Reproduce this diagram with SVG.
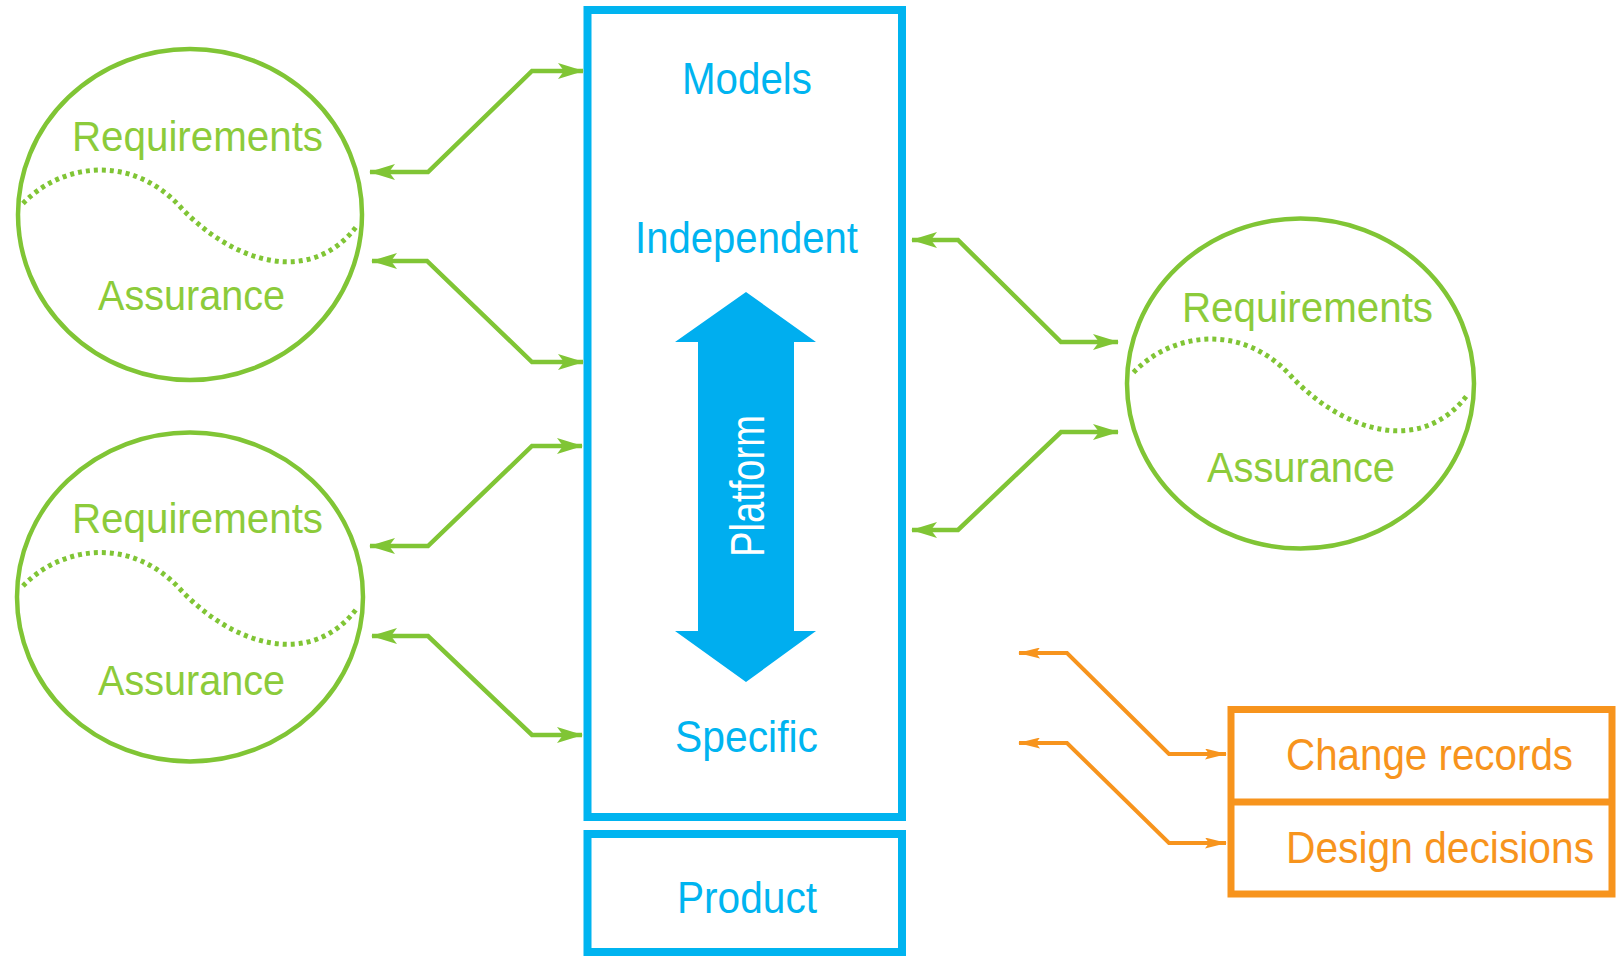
<svg xmlns="http://www.w3.org/2000/svg" width="1616" height="956" viewBox="0 0 1616 956">
<style>
.bg{fill:#ffffff}
.circ{fill:none;stroke:#80C535;stroke-width:4.5}
.wave{fill:none;stroke:#80C535;stroke-width:5;stroke-dasharray:4 4}
.gt{font-family:"Liberation Sans",Arial,sans-serif;font-size:43px;fill:#8CCB3A;text-anchor:middle}
.bt{font-family:"Liberation Sans",Arial,sans-serif;font-size:44px;fill:#00B4F0;text-anchor:middle}
.ot{font-family:"Liberation Sans",Arial,sans-serif;font-size:44px;fill:#F7941D}
.wt{font-family:"Liberation Sans",Arial,sans-serif;font-size:48px;fill:#ffffff;text-anchor:middle}
.box{fill:none;stroke:#00B4F0;stroke-width:8}
.obox{fill:none;stroke:#F7941D;stroke-width:7}
.gl{fill:none;stroke:#80C535;stroke-width:4.5;stroke-linejoin:miter}
.ol{fill:none;stroke:#F7941D;stroke-width:4;stroke-linejoin:miter}
</style>
<defs>
<marker id="ga" viewBox="0 0 26 16" refX="25" refY="8" markerWidth="26" markerHeight="16" markerUnits="userSpaceOnUse" orient="auto-start-reverse">
<path d="M0,0 L26,8 L0,16 L6,8 z" fill="#80C535"/>
</marker>
<marker id="oa" viewBox="0 0 22 11" refX="21" refY="5.5" markerWidth="22" markerHeight="11" markerUnits="userSpaceOnUse" orient="auto-start-reverse">
<path d="M0,0 L22,5.5 L0,11 L4,5.5 z" fill="#F7941D"/>
</marker>
<path id="wv" d="M-167,-11 C-130,-50 -60,-62 -10,-8 S120,75 168,10"/>
</defs>
<rect class="bg" x="0" y="0" width="1616" height="956"/>

<g id="circle-left-1">
<ellipse class="circ" cx="190" cy="214.5" rx="172" ry="165.5"/>
<use href="#wv" class="wave" transform="translate(190,214.5)"/>
<text class="gt" x="197.5" y="151" textLength="251" lengthAdjust="spacingAndGlyphs">Requirements</text>
<text class="gt" x="191.5" y="310" textLength="187" lengthAdjust="spacingAndGlyphs">Assurance</text>
</g>

<g id="circle-left-2">
<ellipse class="circ" cx="190" cy="597" rx="173" ry="164.5"/>
<use href="#wv" class="wave" transform="translate(190,597)"/>
<text class="gt" x="197.5" y="533" textLength="251" lengthAdjust="spacingAndGlyphs">Requirements</text>
<text class="gt" x="191.5" y="695" textLength="187" lengthAdjust="spacingAndGlyphs">Assurance</text>
</g>

<g id="circle-right">
<ellipse class="circ" cx="1300.5" cy="383.5" rx="173.5" ry="165"/>
<use href="#wv" class="wave" transform="translate(1300.5,383.5)"/>
<text class="gt" x="1307.5" y="321.5" textLength="251" lengthAdjust="spacingAndGlyphs">Requirements</text>
<text class="gt" x="1301" y="481.5" textLength="188" lengthAdjust="spacingAndGlyphs">Assurance</text>
</g>

<g id="models">
<rect class="box" x="587.5" y="10" width="314.5" height="807"/>
<text class="bt" x="747" y="94" textLength="130" lengthAdjust="spacingAndGlyphs">Models</text>
<text class="bt" x="746.5" y="253" textLength="223" lengthAdjust="spacingAndGlyphs">Independent</text>
<text class="bt" x="746.5" y="752" textLength="143" lengthAdjust="spacingAndGlyphs">Specific</text>
</g>

<g id="platform-arrow">
<polygon points="746,292 816,342 794,342 794,631 816,631 746,682 675,631 698,631 698,342 675,342" fill="#00AEEF"/>
<text class="wt" transform="translate(764,486) rotate(-90)" x="0" y="0" textLength="142" lengthAdjust="spacingAndGlyphs">Platform</text>
</g>

<g id="product">
<rect class="box" x="587.5" y="834" width="314.5" height="118"/>
<text class="bt" x="747" y="913" textLength="140" lengthAdjust="spacingAndGlyphs">Product</text>
</g>

<g id="records">
<rect class="obox" x="1231" y="709.5" width="381" height="184.5"/>
<line x1="1231" y1="802" x2="1612" y2="802" stroke="#F7941D" stroke-width="7"/>
<text class="ot" x="1286" y="770" textLength="287" lengthAdjust="spacingAndGlyphs">Change records</text>
<text class="ot" x="1286" y="863" textLength="308" lengthAdjust="spacingAndGlyphs">Design decisions</text>
</g>

<g id="connectors">
<path class="gl" d="M370,172 H428 L532,71 H583" marker-start="url(#ga)" marker-end="url(#ga)"/>
<path class="gl" d="M372,261 H427 L532,362 H583" marker-start="url(#ga)" marker-end="url(#ga)"/>
<path class="gl" d="M370,546 H428 L532,446 H582" marker-start="url(#ga)" marker-end="url(#ga)"/>
<path class="gl" d="M372,636 H428 L532,735 H582" marker-start="url(#ga)" marker-end="url(#ga)"/>
<path class="gl" d="M912,240 H958 L1061,342 H1118" marker-start="url(#ga)" marker-end="url(#ga)"/>
<path class="gl" d="M912,530 H958 L1061,432 H1118" marker-start="url(#ga)" marker-end="url(#ga)"/>
<path class="ol" d="M1019,653 H1067 L1169,754 H1226" marker-start="url(#oa)" marker-end="url(#oa)"/>
<path class="ol" d="M1019,743 H1067 L1169,843 H1226" marker-start="url(#oa)" marker-end="url(#oa)"/>
</g>
</svg>
